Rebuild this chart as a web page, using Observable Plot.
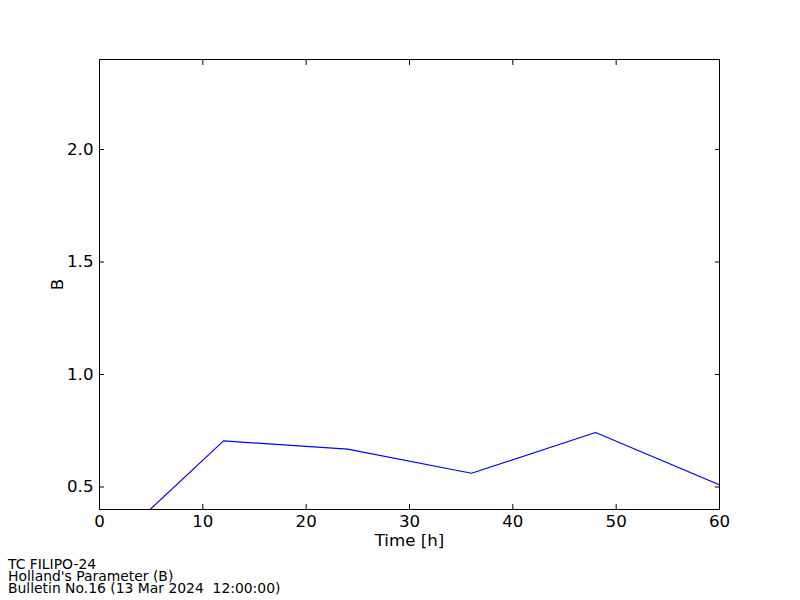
<!DOCTYPE html>
<html>
<head>
<meta charset="utf-8">
<script src="https://cdn.jsdelivr.net/npm/d3@7"></script>
<script src="https://cdn.jsdelivr.net/npm/@observablehq/plot@0.6"></script>
<style>
  html, body { margin: 0; padding: 0; background: #fff; }
  #wrap { position: relative; width: 800px; height: 600px; }
  #caption { position: absolute; left: 8px; top: 558px; font-family: "DejaVu Sans", sans-serif; font-size: 13.9px; line-height: 12px; color: #000; white-space: pre; }
</style>
</head>
<body>
<div id="wrap">
  <div id="chart"></div>
  <div id="caption">TC FILIPO-24
Holland's Parameter (B)
Bulletin No.16 (13 Mar 2024  12:00:00)</div>
</div>
<script>
const hours = [0, 12, 24, 36, 48, 60];
const bValues = [0.19, 0.705, 0.668, 0.561, 0.742, 0.51];
const xTicks = [0, 10, 20, 30, 40, 50, 60];
const yTicks = [0.5, 1.0, 1.5, 2.0];

const data = hours.map((h, i) => ({h, b: bValues[i]}));
const FS = 16.67;

const chart = Plot.plot({
  width: 800,
  height: 600,
  marginLeft: 99,
  marginRight: 81,
  marginTop: 59,
  marginBottom: 91,
  style: {fontFamily: "DejaVu Sans, sans-serif", fontSize: FS + "px", color: "#000", background: "#fff"},
  x: {domain: [0, 60]},
  y: {domain: [0.4, 2.4]},
  marks: [
    Plot.line(data, {x: "h", y: "b", stroke: "#0000ff", strokeWidth: 1.2, clip: true}),
    Plot.axisX(xTicks, {anchor: "bottom", tickSize: 0, tickPadding: 6, label: null, fontSize: FS, fill: "#000", tickFormat: d3.format("d")}),
    Plot.axisX(xTicks, {anchor: "bottom", tickSize: -5, text: null, label: null}),
    Plot.axisX(xTicks, {anchor: "top", tickSize: -5, text: null, label: null}),
    Plot.axisY(yTicks, {anchor: "left", tickSize: 0, tickPadding: 6, label: null, fontSize: FS, fill: "#000", tickFormat: d3.format(".1f")}),
    Plot.axisY(yTicks, {anchor: "left", tickSize: -5, text: null, label: null}),
    Plot.axisY(yTicks, {anchor: "right", tickSize: -5, text: null, label: null}),
    Plot.frame({stroke: "#000", strokeWidth: 1}),
    Plot.text(["Time [h]"], {frameAnchor: "bottom", dy: 31.5, lineAnchor: "middle", textAnchor: "middle", text: d => d, fontSize: FS, fill: "#000"}),
    Plot.text(["B"], {frameAnchor: "left", dx: -42, rotate: -90, lineAnchor: "middle", textAnchor: "middle", text: d => d, fontSize: FS, fill: "#000"})
  ]
});
document.getElementById("chart").appendChild(chart);
</script>
</body>
</html>
